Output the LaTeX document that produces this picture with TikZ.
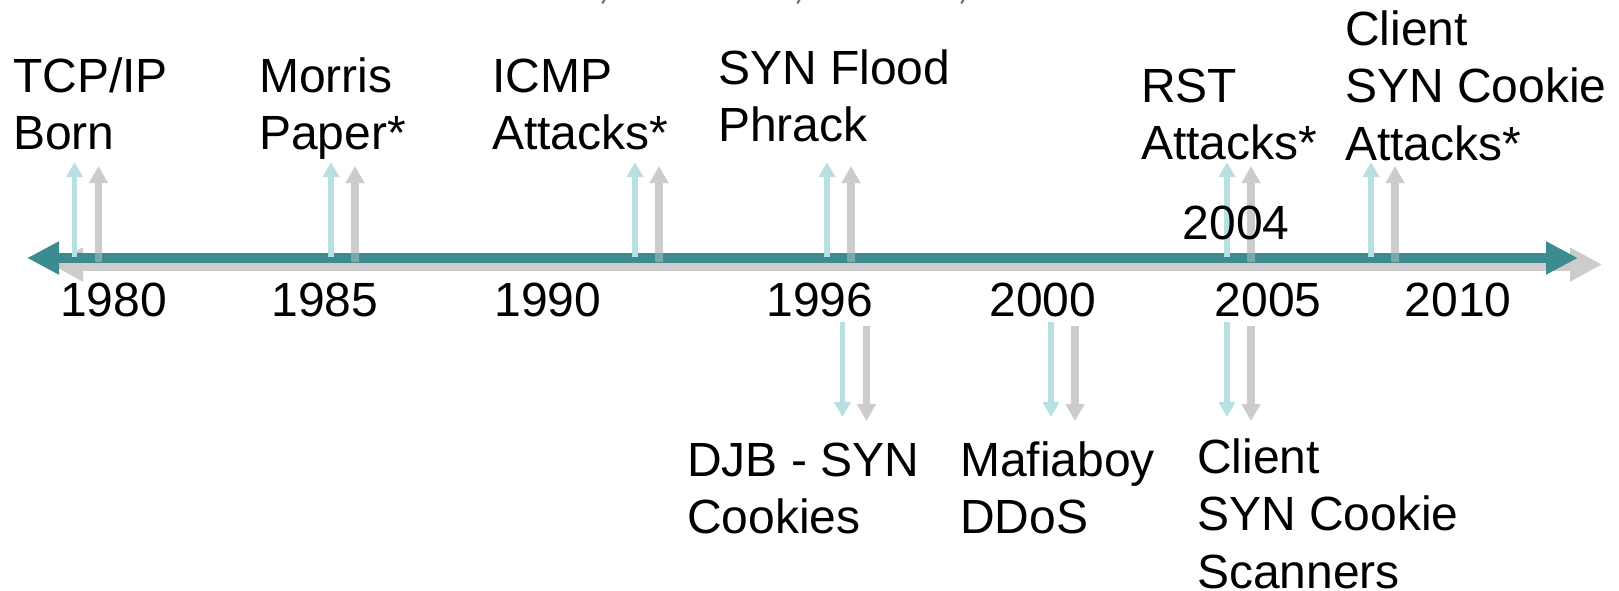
\documentclass[tikz,border=0pt]{standalone}
\usepackage{fontspec}
\setmainfont{Liberation Sans}
\usetikzlibrary{arrows.meta}
\definecolor{axisteal}{RGB}{60,139,143}
\definecolor{markblue}{RGB}{184,224,228}
\definecolor{shadowgray}{RGB}{204,204,204}
\definecolor{fraggray}{RGB}{110,110,110}
\newcommand\tstack[1]{\begin{tabular}[t]{@{}l@{}}#1\end{tabular}}
\tikzset{
  lbl/.style={anchor=base west, inner sep=0pt, font=\fontsize{48}{57.5}\selectfont},
  yr/.style={anchor=base, inner sep=0pt, font=\fontsize{48}{57.5}\selectfont},
  axisline/.style={line width=10.6pt, color=axisteal,
    {Triangle[width=31pt,length=32pt]}-{Triangle[width=31pt,length=32pt]}},
  axisshadow/.style={line width=13pt, color=shadowgray,
    {Triangle[width=32pt,length=32pt]}-{Triangle[width=32pt,length=32pt]}},
  markarrow/.style={line width=5.5pt, color=markblue, -{Triangle[width=16pt,length=15pt]}},
  markshadow/.style={line width=7.5pt, color=shadowgray, -{Triangle[width=18pt,length=17pt]}},
  fragment/.style={line width=2pt, color=fraggray, line cap=round},
}
\begin{document}
\begin{tikzpicture}[x=1pt,y=-1pt]
\useasboundingbox (0,0) rectangle (1619,590);

% edges of a clipped line of text above the picture
\draw[fragment] (604.5,0) -- (602.5,3);
\draw[fragment] (799.5,0) -- (797.5,3);
\draw[fragment] (963.5,0) -- (961.5,3);

% time axis ends
\coordinate (axL) at (27,258);
\coordinate (axR) at (1578,258);
\coordinate (shL) at (51,264.5);
\coordinate (shR) at (1602,264.5);

% event positions on the axis (blue marker x positions)
\foreach \n/\x in {tcp/74.5, morris/331, icmp/635, synflood/827, rst/1227, clatk/1371}{
  \coordinate (\n-a) at (\x,257);
  \coordinate (\n-b) at (\x,162);
  \coordinate (\n-sa) at (\x+24,262);
  \coordinate (\n-sb) at (\x+24,166);
}
\foreach \n/\x in {djb/842.5, mafia/1051, clscan/1227}{
  \coordinate (\n-a) at (\x,322);
  \coordinate (\n-b) at (\x,417);
  \coordinate (\n-sa) at (\x+24,326);
  \coordinate (\n-sb) at (\x+24,421);
}

% shadows
\draw[axisshadow] (shL) -- (shR);
\foreach \n in {tcp,morris,icmp,synflood,rst,clatk,djb,mafia,clscan}{
  \draw[markshadow] (\n-sa) -- (\n-sb);
}

% axis
\draw[axisline] (axL) -- (axR);
\foreach \n in {tcp,morris,icmp,synflood,rst,clatk}{
  \fill[shadowgray, opacity=.45] ([xshift=-3.75pt]\n-sa |- 0,252.7) rectangle ([xshift=3.75pt]\n-sa);
}

% markers
\foreach \n in {tcp,morris,icmp,synflood,rst,clatk,djb,mafia,clscan}{
  \draw[markarrow] (\n-a) -- (\n-b);
}

% years
\node[yr] (y1980) at (113.5,316) {1980};
\node[yr] (y1985) at (325,316) {1985};
\node[yr] (y1990) at (548,316) {1990};
\node[yr] (y1996) at (820,316) {1996};
\node[yr] (y2000) at (1043,316) {2000};
\node[yr] (y2005) at (1268,316) {2005};
\node[yr] (y2010) at (1458,316) {2010};
\node[yr] (y2004) at (1236,239) {2004};

% events above the axis
\node[lbl] (tcpL) at (13,92) {\tstack{TCP/IP\\Born}};
\node[lbl] (morrisL) at (259,92) {\tstack{Morris\\Paper*}};
\node[lbl] (icmpL) at (492,92) {\tstack{ICMP\\Attacks*}};
\node[lbl] (synfloodL) at (718,84) {\tstack{SYN Flood\\Phrack}};
\node[lbl] (rstL) at (1141,102) {\tstack{RST\\Attacks*}};
\node[lbl] (clatkL) at (1345,45) {\tstack{Client\\SYN Cookie\\Attacks*}};

% events below the axis
\node[lbl] (djbL) at (687,476) {\tstack{DJB - SYN\\Cookies}};
\node[lbl] (mafiaL) at (960,476) {\tstack{Mafiaboy\\DDoS}};
\node[lbl] (clscanL) at (1197,473) {\tstack{Client\\SYN Cookie\\Scanners}};
\end{tikzpicture}
\end{document}
